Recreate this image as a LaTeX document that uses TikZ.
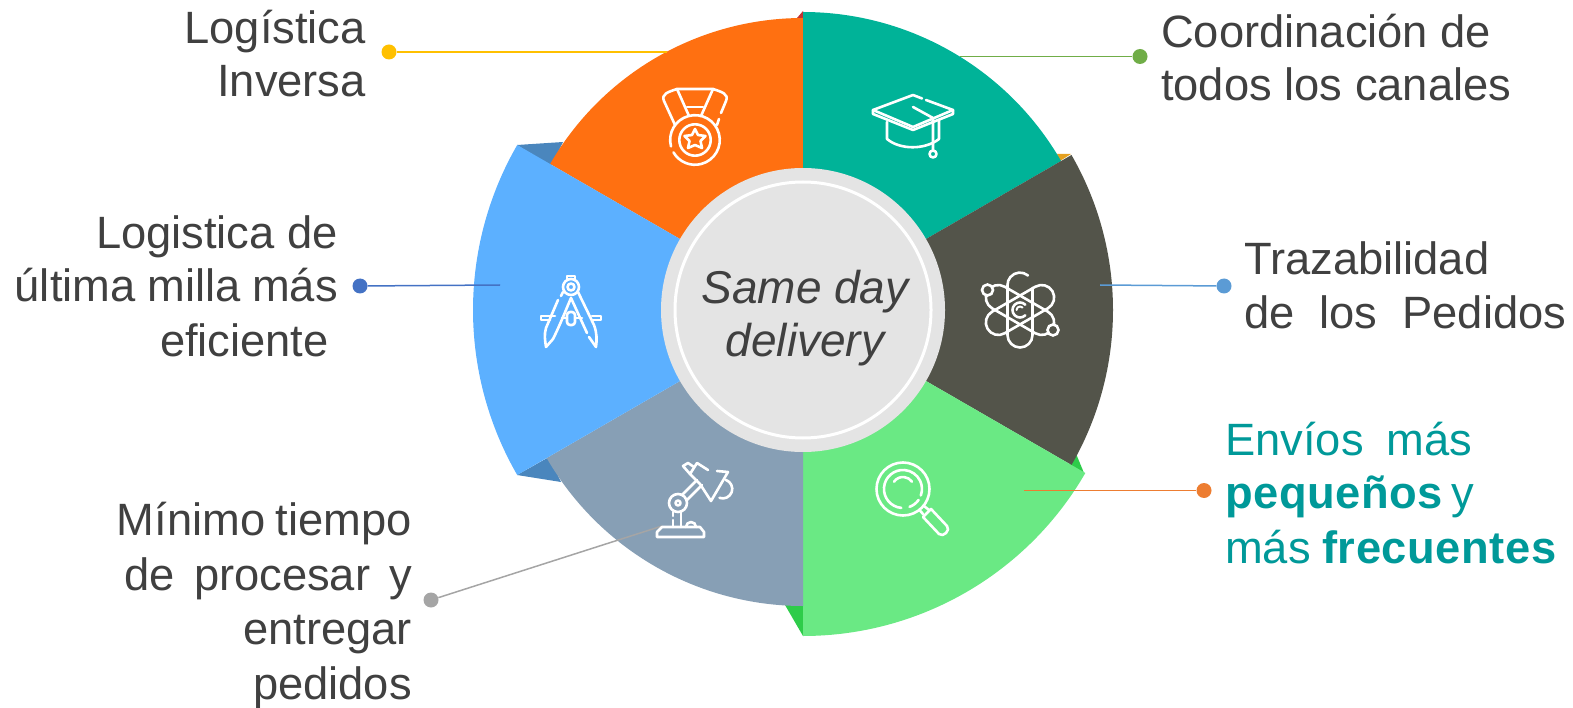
\documentclass[tikz,border=0pt]{standalone}
\usepackage{fontspec}
\setmainfont{Liberation Sans}
\usetikzlibrary{calc}
\definecolor{cOrange}{HTML}{FF7011}
\definecolor{cTeal}{HTML}{00B398}
\definecolor{cDark}{HTML}{53544A}
\definecolor{cGreen}{HTML}{6AE984}
\definecolor{cGray}{HTML}{879FB5}
\definecolor{cBlue}{HTML}{5CB0FF}
\definecolor{cShBlue}{HTML}{4A86BD}
\definecolor{cAmber}{HTML}{E5A01F}
\definecolor{cShGreen}{HTML}{2ECC4A}
\definecolor{cDisc}{HTML}{E4E4E4}
\definecolor{cText}{HTML}{404040}
\definecolor{cTealText}{HTML}{009999}
\definecolor{cL1}{HTML}{FFC000}
\definecolor{cL2}{HTML}{70AD47}
\definecolor{cL3}{HTML}{4472C4}
\definecolor{cL4}{HTML}{5B9BD5}
\definecolor{cL5}{HTML}{ED7D31}
\definecolor{cL6}{HTML}{A5A5A5}
\newcommand{\boldsp}[1]{{\bfseries\addfontfeature{LetterSpace=1.2}#1}}
\tikzset{
  lblR/.style={anchor=base east,inner sep=0pt,text=cText,font=\fontsize{45.3}{54}\selectfont},
  lblL/.style={anchor=base west,inner sep=0pt,text=cText,font=\fontsize{45.3}{54}\selectfont},
  lblT/.style={anchor=base west,inner sep=0pt,text=cTealText,font=\fontsize{45.3}{54}\selectfont},
  lblC/.style={anchor=base,inner sep=0pt,text=cText,font=\fontsize{46}{54}\selectfont\itshape},
  dot/.style={circle,inner sep=0pt,minimum size=15pt,fill=#1},
  lead/.style={line width=1.5pt,draw=#1},
  ico/.style={draw=white,line width=2.6pt,line cap=round,line join=round},
  electron/.style={circle,fill=cDark,draw=white,line width=2.6pt,minimum size=11pt,inner sep=0pt},
}
\newcommand{\sect}[4]{\fill[#1] (803,310) -- ($(803,310)+(#2:#4)$) arc[start angle=#2,end angle=#3,radius=#4] -- cycle;}
\begin{document}
\begin{tikzpicture}[x=1pt,y=-1pt]
\useasboundingbox (0,0) rectangle (1573,708);
% shadows
\fill[cShBlue] (517,145) -- (563,142) -- (551,166) -- cycle;
\fill[cShBlue] (517,475) -- (561,482) -- (549,457) -- cycle;
\fill[cAmber] (1057,154) -- (1071,154) -- (1060,161) -- cycle;
\fill[cShGreen] (785,605) -- (803,605) -- (803,636) -- cycle;
\fill[cShGreen] (1072,444) -- (1084,473) -- (1070,466) -- cycle;
\fill[red!70!black!80] (797,18) -- (803,11) -- (803,18) -- cycle;
% sectors
\sect{cOrange}{-150}{-90}{292}
\sect{cTeal}{-90}{-30}{298}
\sect{cDark}{-30}{30}{310}
\sect{cGreen}{30}{90}{326}
\sect{cGray}{90}{150}{296}
\sect{cBlue}{150}{210}{330}
% centre
\node[circle,fill=cDisc,minimum size=284pt,inner sep=0pt] (disc) at (803,310) {};
\node[circle,draw=white,line width=3pt,minimum size=256pt,inner sep=0pt] (ring) at (803,310) {};
\node[lblC] (c1) at (805,304) {Same day};
\node[lblC] (c2) at (805,356) {delivery};
% leaders
\node[dot=cL1] (d1) at (389,52) {};
\coordinate (e1) at (667,52);
\draw[lead=cL1] (d1) -- (e1);
\node[dot=cL2] (d2) at (1140,56.5) {};
\coordinate (e2) at (960,56.5);
\draw[lead=cL2] (d2) -- (e2);
\node[dot=cL3] (d3) at (360,286) {};
\coordinate (e3) at (500,285);
\draw[lead=cL3] (d3) -- (e3);
\node[dot=cL4] (d4) at (1224,286) {};
\coordinate (e4) at (1100,285);
\draw[lead=cL4] (d4) -- (e4);
\node[dot=cL5] (d5) at (1204,490.5) {};
\coordinate (e5) at (1024,490.5);
\draw[lead=cL5] (d5) -- (e5);
\node[dot=cL6] (d6) at (431,600) {};
\coordinate (e6) at (662,526);
\draw[lead=cL6] (d6) -- (e6);
% labels
\node[lblR] (t1a) at (366,43.5) {Logística};
\node[lblR] (t1b) at (366,96.5) {Inversa};
\node[lblL] (t2a) at (1161,48) {Coordinación de};
\node[lblL] (t2b) at (1161,101) {todos los canales};
\node[lblR] (t3a) at (338,248.5) {Logistica de};
\node[lblR] (t3b) at (338,302) {\makebox[323pt][s]{última milla más}};
\node[lblR] (t3c) at (329,356) {eficiente};
\node[lblL] (t4a) at (1244,275) {Trazabilidad};
\node[lblL] (t4b) at (1244,328) {\makebox[322pt][s]{de los Pedidos}};
\node[lblT] (t5a) at (1225,455) {\makebox[247pt][s]{Envíos más}};
\node[lblT] (t5b) at (1225,508) {\makebox[241pt][s]{\boldsp{pequeños} y}};
\node[lblT] (t5c) at (1225,563) {\makebox[331pt][s]{más \boldsp{frecuentes}}};
\node[lblR] (t6a) at (412,535) {\makebox[295pt][s]{Mínimo tiempo}};
\node[lblR] (t6b) at (412.5,590) {\makebox[288pt][s]{de procesar y}};
\node[lblR] (t6c) at (412,644) {entregar};
\node[lblR] (t6d) at (412,699) {pedidos};
% medal
\draw[ico] (695,140) circle[radius=15.7];
\draw[ico] (671,146.4) arc[start angle=165,end angle=510,radius=24.8];
\draw[ico] (675,125) -- (664,101) .. controls (661,94) and (668,92) .. (677,89) -- (713,89) .. controls (722,92) and (729,94) .. (726,101) -- (721,113);
\draw[ico] (717,125) -- (719,119);
\draw[ico] (677,89) -- (689,116); \draw[ico] (713,89) -- (701,116); \draw[ico] (687,107) -- (703,107);
\draw[ico] (695,129) -- (698,135) -- (705.5,136) -- (700.5,141) -- (702,148) -- (695,145) -- (688,148) -- (689.5,141) -- (684.5,136) -- (692,135) -- cycle;
% cap
\draw[ico] (926,100) -- (953,110) -- (913,127) -- (873,110) -- (913,95) -- (922,98.5);
\draw[ico] (873,110) -- (873,114) -- (913,130) -- (953,114) -- (953,110);
\draw[ico] (887,122) -- (887,139) .. controls (900,150) and (925,150) .. (939,139) -- (939,120);
\draw[ico] (913,107) -- (933,118) -- (933,150);
\draw[ico] (933,154) circle[radius=3.5];
% compass
\draw[ico] (571,287) circle[radius=8];
\draw[ico] (571,287) circle[radius=3.5];
\draw[ico] (567,280) -- (567,276) -- (575,276) -- (575,280);
\draw[ico] (563,292) -- (561,296) (558,300) -- (546,328) .. controls (544,335) and (545,340) .. (546,347) -- (553,339) .. controls (560,325) and (565,312) .. (571,298);
\draw[ico] (578,292) -- (594,325) .. controls (597,333) and (597,340) .. (596,347) -- (589,337) (587,333) -- (571,298);
\draw[ico] (555,316) -- (541,316) -- (541,320) -- (550,320);
\draw[ico] (592,316) -- (601,316) -- (601,320) -- (593,320);
\draw[ico] (562,318) -- (566,318) (576,318) -- (582,318);
\draw[ico,rounded corners=3pt] (567,312) rectangle (575,325);
% atom
\begin{scope}[shift={(1020,310)}]
\draw[ico] (8,-34.5) arc[start angle=-50,end angle=-180,radius=12.5] -- (-12.5,25) arc[start angle=180,end angle=0,radius=12.5] -- (12.5,-22);
\begin{scope}[rotate=60]
\draw[ico] (12.5,-25) arc[start angle=0,end angle=-180,radius=12.5] -- (-12.5,25) arc[start angle=180,end angle=0,radius=12.5] -- cycle;
\end{scope}
\begin{scope}[rotate=-60]
\draw[ico] (12.5,-25) arc[start angle=0,end angle=-180,radius=12.5] -- (-12.5,25) arc[start angle=180,end angle=0,radius=12.5] -- cycle;
\end{scope}
\draw[ico] (5.3,-5.3) arc[start angle=-45,end angle=-315,radius=7.5];
\draw[ico,line width=2pt] (2.5,-2.5) arc[start angle=-45,end angle=-180,radius=3.5];
\end{scope}
\node[electron] (el1) at (987.5,290) {};
\node[electron] (el2) at (1053,330) {};
% lamp
\draw[ico] (657,537) -- (657,532) -- (662,527) -- (700,527) -- (704,532) -- (704,537) -- cycle;
\draw[ico] (686,527) arc[start angle=180,end angle=360,radius=5];
\draw[ico] (673,527) -- (673,520) (673,516) -- (673,512);
\draw[ico] (681,527) -- (681,512);
\draw[ico] (678,503) circle[radius=9];
\draw[ico] (678,503) circle[radius=2.5];
\draw[ico] (682,495) -- (697,480) (687,500) -- (702,485);
\draw[ico] (708,470) -- (697,463) -- (690,474) -- (700,484) -- (711,501) -- (728,472) -- (717,471);
\draw[ico] (690,474) -- (683,466) -- (688,463) -- (694,467);
\draw[ico] (726,480) arc[start angle=-70,end angle=110,radius=9.5];
% magnifier
\draw[ico] (903,489) circle[radius=26.5];
\draw[ico] (901.3,507.9) arc[start angle=95,end angle=380,radius=19];
\draw[ico] (918.6,499.9) arc[start angle=35,end angle=70,radius=19];
\draw[ico] (894,481.7) arc[start angle=-145,end angle=-35,radius=11];
\draw[ico] (919.5,510) -- (923,514) (924,506) -- (929,510);
\draw[ico] (923,517) -- (939,534) .. controls (943,538) and (951,530) .. (947,526) -- (931,509) -- cycle;
\end{tikzpicture}
\end{document}
